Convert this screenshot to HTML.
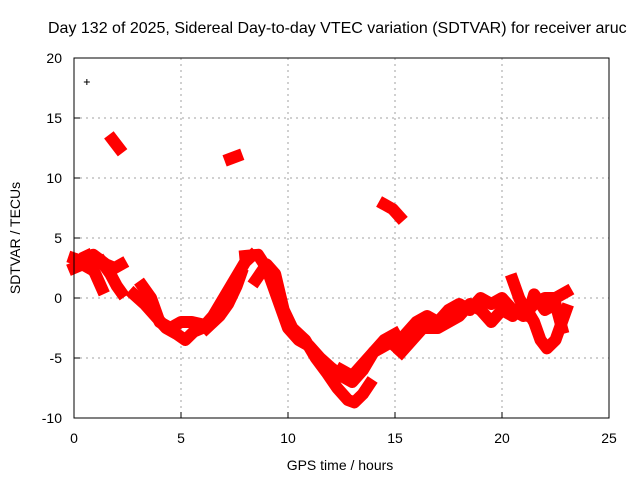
<!DOCTYPE html>
<html><head><meta charset="utf-8"><style>
body{margin:0;background:#fff;width:640px;height:480px;overflow:hidden}
svg text{font-family:"Liberation Sans",sans-serif;font-size:13px;fill:#000}
</style></head><body>
<svg width="640" height="480">
<text x="48" y="33" style="font-size:16px">Day 132 of 2025, Sidereal Day-to-day VTEC variation (SDTVAR) for receiver aruc</text>
<g id="grid"></g>
<g id="marks"></g>
<rect x="74" y="58" width="535" height="360" fill="none" stroke="#000"/>
<g id="ticks"></g>
<text x="340" y="470" text-anchor="middle" style="font-size:14px">GPS time / hours</text>
<text x="0" y="0" transform="translate(20,238) rotate(-90)" text-anchor="middle" style="font-size:14px">SDTVAR / TECUs</text>
</svg>
<script>
const xTicks=[0,5,10,15,20,25];
const yTicks=[-10,-5,0,5,10,15,20];
const tracks=[
[[0,3.3],[0.5,3],[0.9,3.6],[1.2,3.2],[1.5,2.8],[1.9,2.5],[2.2,2.8]],
[[0,2.5],[0.4,2.8],[0.8,2.4]],
[[0.6,3.5],[1,2],[1.3,0.8]],
[[1.3,3],[1.7,2],[2,1],[2.2,0.5]],
[[2.8,0.3],[3.3,-0.5],[3.8,-1.5],[4.3,-2.5],[4.8,-3],[5.2,-3.5],[5.6,-2.8],[6,-2.5],[6.5,-1.5],[7,0],[7.5,1.5],[8,3],[8.3,3.5]],
[[3.2,1],[3.6,0],[4,-2],[4.5,-2.5],[5,-2],[5.5,-2],[6,-2.2]],
[[6.2,-2.5],[6.8,-1.5],[7.2,-0.5],[7.6,1],[7.8,2]],
[[8,3.5],[8.6,3.6],[9,2.5],[9.5,0],[10,-2.5],[10.5,-3.5],[11,-4],[11.5,-5],[12,-5.8],[12.5,-6.5],[13,-7],[13.5,-6],[14,-4.5],[14.5,-4],[15,-3.5]],
[[8.5,1.5],[9,2.8],[9.4,2],[9.8,-1],[10.2,-2.5],[10.8,-3.5],[11.3,-5],[11.8,-6.2],[12.3,-7.5],[12.8,-8.5],[13.1,-8.7],[13.5,-8],[13.8,-7.2]],
[[12.5,-6],[13,-6.5],[13.5,-5.5],[14,-4.5],[14.5,-3.5],[15,-3]],
[[15,-4],[15.5,-3],[16,-2],[16.5,-1.5],[17,-2],[17.5,-1],[18,-0.5],[18.5,-1],[19,0],[19.5,-0.5],[20,0],[20.5,-1],[21,-1.5],[21.5,-0.5],[22,0],[22.5,0],[23,0.5]],
[[15.3,-4.5],[15.8,-3.5],[16.3,-2.5],[17,-2.5],[17.5,-2],[18,-1.5],[18.5,-0.5],[19,-1],[19.5,-2],[20,-1],[20.5,-1.5],[21,-0.5],[21.5,-2],[21.8,-3.5],[22.1,-4.2],[22.5,-3.5],[23,-1]],
[[20.5,1.5],[20.8,0],[21.2,-1.5],[21.5,0.3],[22,-1],[22.5,-0.5],[22.8,-2.5]],
[[1.8,13.2],[2.1,12.5]],
[[7.3,11.6],[7.6,11.8]],
[[14.5,7.8],[14.9,7.4],[15.2,6.8]]
];
const outlier=[[0.6,18]];
const NS='http://www.w3.org/2000/svg';
const X=h=>74+h*535/25, Y=v=>298-v*12;
const grid=document.getElementById('grid'),ticks=document.getElementById('ticks'),marks=document.getElementById('marks');
function mk(tag,attrs,parent){const e=document.createElementNS(NS,tag);for(const k in attrs)e.setAttribute(k,attrs[k]);parent.appendChild(e);return e;}
xTicks.forEach(t=>{
  if(t>0&&t<25){const g=mk('line',{x1:X(t),x2:X(t),y1:58,y2:418,stroke:'#a0a0a0','stroke-dasharray':'2,4'},grid);
  
  }
  const l=mk('line',{x1:X(t),x2:X(t),y1:418,y2:412,stroke:'#000'},ticks);
  
  
  const tx=mk('text',{x:X(t),y:443,'text-anchor':'middle','style':'font-size:14px'},ticks);tx.textContent=t;
  
  
});
yTicks.forEach(t=>{
  if(t>-10&&t<20){const g=mk('line',{x1:74,x2:609,y1:Y(t),y2:Y(t),stroke:'#a0a0a0','stroke-dasharray':'2,4'},grid);
  
  }
  const l=mk('line',{x1:74,x2:80,y1:Y(t),y2:Y(t),stroke:'#000'},ticks);
  
  
  const tx=mk('text',{x:62,y:Y(t)+5,'text-anchor':'end','style':'font-size:14px'},ticks);tx.textContent=t;
  
  
});
tracks.forEach(tr=>{
  const p=mk('polyline',{points:tr.map(d=>X(d[0])+','+Y(d[1])).join(' '),fill:'none',stroke:'#ff0000','stroke-width':12,'stroke-linejoin':'round','stroke-linecap':'square'},marks);
  
  
});
outlier.forEach(d=>{
  const t=mk('path',{d:`M${X(d[0])-3},${Y(d[1])}h6M${X(d[0])},${Y(d[1])-3}v6`,stroke:'#000','stroke-width':1},marks);
  
  
});
</script>
</body></html>
